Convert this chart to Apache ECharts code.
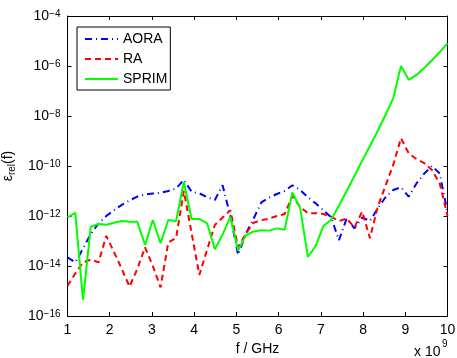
<!DOCTYPE html>
<html><head><meta charset="utf-8">
<script src="https://cdn.jsdelivr.net/npm/echarts@6/dist/echarts.min.js"></script>
<style>html,body{margin:0;padding:0;background:#fff}#c{width:457px;height:358px}</style>
</head><body><div id="c"></div>
<script>
// frequency samples (x 10^9 Hz)
const freq = [1.0000,1.1837,1.3673,1.5510,1.7347,1.9184,2.1020,2.2857,2.4694,2.6531,
  2.8367,3.0204,3.2041,3.3878,3.5714,3.7551,3.9388,4.1224,4.3061,4.4898,
  4.6735,4.8571,5.0408,5.2245,5.4082,5.5918,5.7755,5.9592,6.1429,6.3265,
  6.5102,6.6939,6.8776,7.0612,7.2449,7.4286,7.6122,7.7959,7.9796,8.1633,
  8.3469,8.5306,8.7143,8.8980,9.0816,9.2653,9.4490,9.6327,9.8163,10.0000];
const aora = [2.2e-14,1.4e-14,5.0e-14,1.9e-13,5.0e-13,1.0e-12,1.7e-12,2.8e-12,4.2e-12,6.0e-12,
  7.2e-12,7.9e-12,8.5e-12,1.0e-11,1.26e-11,2.8e-11,9.3e-12,8.1e-12,5.6e-12,4.4e-12,
  1.7e-11,1.0e-12,2.8e-14,2.0e-13,7.9e-13,3.5e-12,5.4e-12,7.6e-12,1.0e-11,1.7e-11,
  1.1e-11,5.6e-12,3.2e-12,1.7e-12,8.9e-13,1.07e-13,8.1e-13,3.2e-13,8.7e-13,6.3e-13,
  2.0e-12,5.6e-12,1.1e-11,1.4e-11,5.9e-12,2.0e-11,5.0e-11,1.0e-10,5.0e-11,1.4e-12];
const ra = [1.6e-15,5.0e-15,1.4e-14,1.8e-14,1.4e-14,1.6e-13,3.6e-14,7.6e-15,1.5e-15,7.6e-15,
  5.6e-14,1.0e-14,1.4e-15,8.9e-14,1.3e-13,1.0e-11,2.1e-13,4.4e-15,4.4e-14,4.4e-13,
  8.7e-13,1.7e-12,5.6e-14,2.0e-13,5.4e-13,6.8e-13,7.9e-13,1.0e-12,1.2e-12,6.3e-12,
  2.3e-12,1.3e-12,1.3e-12,1.2e-12,9.3e-13,6.3e-13,7.9e-13,3.5e-13,1.5e-12,1.3e-13,
  2.3e-12,1.6e-11,1.1e-10,1.3e-9,3.2e-10,1.9e-10,1.3e-10,6.9e-11,2.0e-11,1.0e-12];
const sprim = [8.9e-13,1.35e-12,4.4e-16,3.7e-13,4.8e-13,4.5e-13,5.4e-13,6.3e-13,5.9e-13,5.9e-13,
  6.9e-14,6.9e-13,8.1e-14,6.9e-13,6.2e-13,2.3e-11,7.6e-13,7.6e-13,5.1e-13,4.7e-14,
  1.8e-13,9.3e-13,4.2e-14,1.7e-13,2.4e-13,2.7e-13,2.6e-13,3.2e-13,2.8e-13,8.7e-12,
  2.1e-12,2.3e-14,6.3e-14,4.0e-13,7.1e-13,2.6e-12,1.0e-11,4.0e-11,1.6e-10,6.3e-10,
  2.5e-9,1.1e-8,5.1e-8,1.0e-6,2.8e-7,4.4e-7,8.3e-7,1.7e-6,3.6e-6,8.1e-6];
const seriesNames = ['AORA','RA','SPRIM'];
const xTickLabels = ['1','2','3','4','5','6','7','8','9','10'];
const yTickExponents = [-16,-14,-12,-10,-8,-6,-4];

const FONT = '"Liberation Sans", Arial, Helvetica, sans-serif';
const pair = (xs, ys) => xs.map((x, i) => [x, ys[i]]);
const yLabel = v => {
  const e = Math.round(Math.log10(v));
  if (yTickExponents.indexOf(e) < 0) return '';
  return '{b|10}{s|' + (e < 0 ? '\u2212' : '') + Math.abs(e) + '}';
};
const richY = {
  b: {fontSize: 14, fontFamily: FONT, color: '#000', lineHeight: 14, verticalAlign: 'bottom'},
  s: {fontSize: 10, fontFamily: FONT, color: '#000', lineHeight: 10, verticalAlign: 'top', padding: [0, 0, 8, 0]}
};
const axisBase = {
  axisLine: {show: true, onZero: false, lineStyle: {color: '#000', width: 1}},
  axisTick: {show: true, inside: true, length: 4, lineStyle: {color: '#000', width: 1}},
  splitLine: {show: false},
  minorTick: {show: false}
};
const chart = echarts.init(document.getElementById('c'), null, {renderer: 'canvas'});
chart.setOption({
  animation: false,
  backgroundColor: '#fff',
  textStyle: {fontFamily: FONT},
  grid: {left: 67.5, right: 9.5, top: 16, bottom: 42, show: false, containLabel: false, outerBoundsMode: 'none'},
  legend: {
    left: 77, top: 27, orient: 'vertical',
    borderColor: '#000', borderWidth: 1, backgroundColor: '#fff',
    padding: [5, 3, 4, 7], itemGap: 6, itemWidth: 33, itemHeight: 14,
    itemStyle: {color: 'rgba(0,0,0,0)', borderColor: 'rgba(0,0,0,0)', borderWidth: 0, opacity: 0},
    textStyle: {fontSize: 14, color: '#000', fontFamily: FONT},
    data: seriesNames
  },
  xAxis: [
    Object.assign({}, axisBase, {
      type: 'value', min: 1, max: 10, interval: 1, position: 'bottom',
      axisLabel: {color: '#000', fontSize: 14, margin: 7, fontFamily: FONT,
        formatter: v => xTickLabels[Math.round(v) - 1] || ''},
      name: 'f / GHz', nameLocation: 'middle', nameGap: 21,
      nameTextStyle: {color: '#000', fontSize: 14, fontFamily: FONT}
    }),
    Object.assign({}, axisBase, {
      type: 'value', min: 1, max: 10, interval: 1, position: 'top',
      axisLabel: {show: false}
    })
  ],
  yAxis: [
    Object.assign({}, axisBase, {
      type: 'log', min: 1e-16, max: 1e-4, interval: 2, position: 'left',
      axisLabel: {color: '#000', margin: 7, formatter: yLabel, rich: richY},
      name: '{e|\u03b5}{r|rel}{e|(f)}', nameLocation: 'middle', nameRotate: 90, nameGap: 39,
      nameTextStyle: {color: '#000', rich: {
        e: {fontSize: 14, fontFamily: FONT, color: '#000'},
        r: {fontSize: 10, fontFamily: FONT, color: '#000', verticalAlign: 'bottom', padding: [8, 0, 0, 0]}
      }}
    }),
    Object.assign({}, axisBase, {
      type: 'log', min: 1e-16, max: 1e-4, interval: 2, position: 'right',
      axisLabel: {show: false}
    })
  ],
  graphic: [
    {type: 'text', left: 414, top: 345, style: {text: 'x 10', fontSize: 14, fontFamily: FONT, fill: '#000'}},
    {type: 'text', left: 442, top: 339, style: {text: '9', fontSize: 10, fontFamily: FONT, fill: '#000'}}
  ],
  series: [
    {name: 'AORA', type: 'line', data: pair(freq, aora), symbol: 'none', showSymbol: false,
      lineStyle: {color: '#0000ff', width: 2, type: [7, 4, 1, 4]}, itemStyle: {color: '#0000ff'}},
    {name: 'RA', type: 'line', data: pair(freq, ra), symbol: 'none', showSymbol: false,
      lineStyle: {color: '#ff0000', width: 2, type: [6, 4]}, itemStyle: {color: '#ff0000'}},
    {name: 'SPRIM', type: 'line', data: pair(freq, sprim), symbol: 'none', showSymbol: false,
      lineStyle: {color: '#00ff00', width: 2, type: 'solid'}, itemStyle: {color: '#00ff00'}}
  ]
});
</script></body></html>
